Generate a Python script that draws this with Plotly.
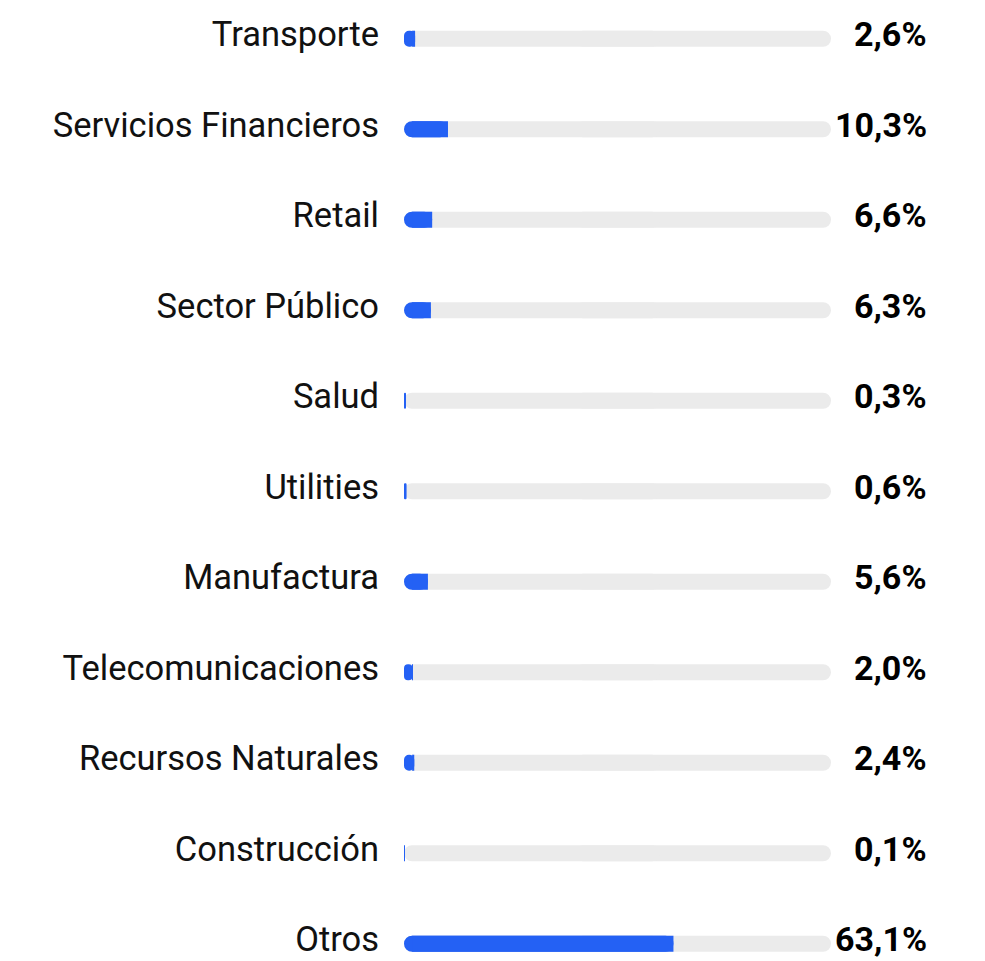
import plotly.graph_objects as go

sectors = [
    "Transporte", "Servicios Financieros", "Retail", "Sector Público", "Salud",
    "Utilities", "Manufactura", "Telecomunicaciones", "Recursos Naturales",
    "Construcción", "Otros",
]
shares = [2.6, 10.3, 6.6, 6.3, 0.3, 0.6, 5.6, 2.0, 2.4, 0.1, 63.1]
share_labels = [f"{v:.1f}%".replace(".", ",") for v in shares]

BLUE = "#2461F4"
TRACK = "#EBEBEB"
BAR_W = 0.177
BAR_OFF = -BAR_W / 2 + 0.052
CAP = 1.9  # roughly the corner radius, in axis units

fig = go.Figure()
n = len(sectors)


def hbar(x, base, color, radius=0, **kw):
    return go.Bar(
        y=sectors, x=x, base=base, orientation="h",
        marker=dict(color=color, cornerradius=radius, line_width=0),
        width=BAR_W, offset=BAR_OFF, **kw,
    )


# gray track: two overlapping halves so both ends come out rounded
fig.add_trace(hbar([60] * n, [40] * n, TRACK, 8, hoverinfo="skip"))
fig.add_trace(hbar([-60] * n, [60] * n, TRACK, 8, hoverinfo="skip"))

# blue fill: rounded piece, then a square piece covering all but the left cap
fig.add_trace(hbar([-v for v in shares], shares, BLUE, 8, hoverinfo="skip"))
sq_base = [min(v, CAP) for v in shares]
fig.add_trace(hbar(
    [v - b for v, b in zip(shares, sq_base)], sq_base, BLUE, 0,
    customdata=shares,
    hovertemplate="<b>%{y}</b><br>%{customdata:.1f}%<extra></extra>",
))

for s, lab in zip(sectors, share_labels):
    fig.add_annotation(
        x=1.229, xref="x domain", y=s, yref="y",
        text=f"<b>{lab}</b>", showarrow=False, xanchor="right",
        font=dict(family="Roboto", size=34, color="#000"),
    )

fig.update_layout(
    barmode="overlay",
    plot_bgcolor="white", paper_bgcolor="white",
    width=985, height=961,
    margin=dict(l=404, r=154, t=0, b=0),
    showlegend=False,
    font=dict(family="Roboto", color="#111"),
    xaxis=dict(range=[0, 100], visible=False, fixedrange=True),
    yaxis=dict(
        categoryorder="array", categoryarray=sectors,
        range=[10.243, -0.376],
        showgrid=False, zeroline=False, showline=False, ticks="",
        ticklabelstandoff=24,
        tickfont=dict(family="Roboto", size=34.5, color="#111"),
        fixedrange=True,
    ),
)

fig.write_html(
    "out.html",
    config={"displayModeBar": False},
    post_script="document.body.style.margin='0';",
)
